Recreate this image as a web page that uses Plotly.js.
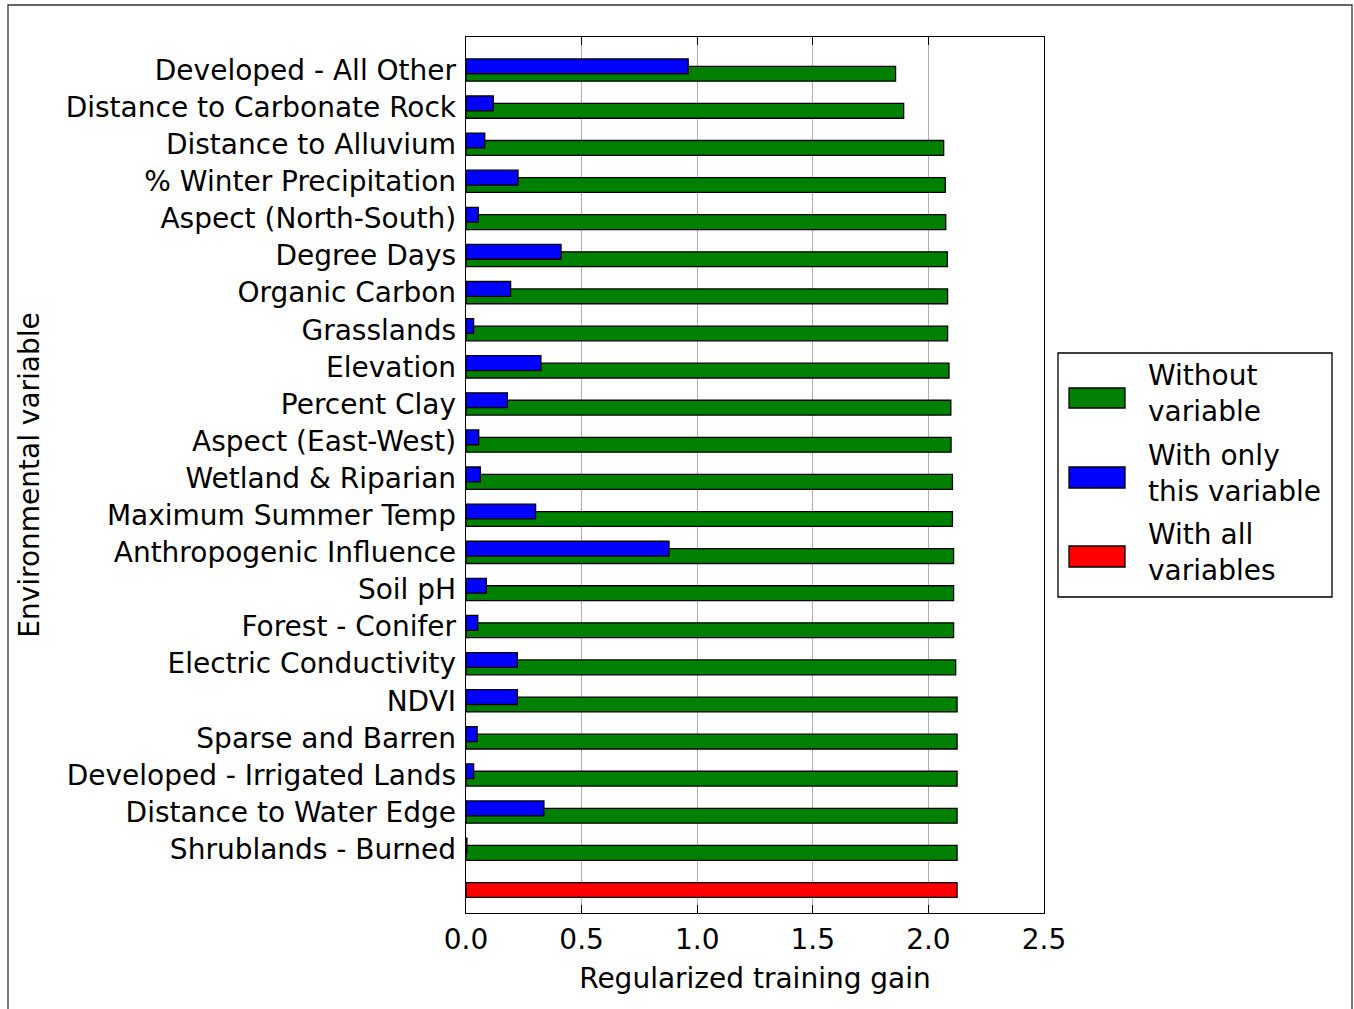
<!DOCTYPE html>
<html><head><meta charset="utf-8">
<script src="https://cdn.plot.ly/plotly-3.0.1.min.js"></script>
<style>html,body{margin:0;padding:0;background:#fff}#chart{width:1354px;height:1009px}</style>
</head><body><div id="chart"></div>
<script>
const categories = [
  'Developed - All Other','Distance to Carbonate Rock','Distance to Alluvium','% Winter Precipitation',
  'Aspect (North-South)','Degree Days','Organic Carbon','Grasslands','Elevation','Percent Clay',
  'Aspect (East-West)','Wetland & Riparian','Maximum Summer Temp','Anthropogenic Influence','Soil pH',
  'Forest - Conifer','Electric Conductivity','NDVI','Sparse and Barren','Developed - Irrigated Lands',
  'Distance to Water Edge','Shrublands - Burned'
];
const withoutVariable = [
  1.858, 1.893, 2.066, 2.073, 2.075, 2.082, 2.083, 2.083, 2.089, 2.097,
  2.098, 2.104, 2.104, 2.109, 2.109, 2.109, 2.118, 2.124, 2.124, 2.124,
  2.124, 2.124
];
const onlyThisVariable = [
  0.961, 0.118, 0.081, 0.225, 0.053, 0.411, 0.193, 0.033, 0.324, 0.179,
  0.055, 0.062, 0.301, 0.878, 0.088, 0.051, 0.222, 0.222, 0.048, 0.033,
  0.337, 0.004
];
const allVariables = [2.124];
const xTickVals = [0, 0.5, 1.0, 1.5, 2.0, 2.5];
const xTickText = ['0.0', '0.5', '1.0', '1.5', '2.0', '2.5'];
const seriesNames = ['Without<br>variable', 'With only<br>this variable', 'With all<br>variables'];
const seriesColors = ['#008000', '#0000ff', '#ff0000'];

const FONT = 'DejaVu Sans, Liberation Sans, sans-serif';
const FS = 28;
const W = 1354, H = 1009;
const M = {l: 466, r: 310, t: 37, b: 96};
const PW = W - M.l - M.r, PH = H - M.t - M.b;
const px = x => (x - M.l) / PW;
const py = y => (H - M.b - y) / PH;

const rows = categories.map((c, i) => i);
const outline = {color: '#000', width: 1.3};

const traces = [
  {type: 'bar', orientation: 'h', name: 'Without variable', x: withoutVariable, y: rows,
   offset: -0.1, width: 0.4, marker: {color: seriesColors[0], line: outline}, showlegend: false, hoverinfo: 'x'},
  {type: 'bar', orientation: 'h', name: 'With only this variable', x: onlyThisVariable, y: rows,
   offset: -0.3, width: 0.4, marker: {color: seriesColors[1], line: outline}, showlegend: false, hoverinfo: 'x'},
  {type: 'bar', orientation: 'h', name: 'With all variables', x: allVariables, y: [categories.length],
   offset: -0.1, width: 0.4, marker: {color: seriesColors[2], line: outline}, showlegend: false, hoverinfo: 'x'}
];

// custom legend (swatches and labels), laid out in paper space
const legBox = {x0: 1058, x1: 1332, y0: 353, y1: 597};
const swatchY = [[388, 408], [467, 488], [546, 567]];
const shapes = [
  {type: 'rect', xref: 'paper', yref: 'paper', x0: px(8), x1: px(1352), y0: py(5), y1: py(1020),
   line: {color: '#333', width: 1.3}, fillcolor: 'rgba(0,0,0,0)', layer: 'below'},
  {type: 'rect', xref: 'paper', yref: 'paper', x0: px(legBox.x0), x1: px(legBox.x1),
   y0: py(legBox.y0), y1: py(legBox.y1), line: {color: '#000', width: 1.3}, fillcolor: '#fff'}
];
const annotations = [];
seriesNames.forEach((n, i) => {
  shapes.push({type: 'rect', xref: 'paper', yref: 'paper', x0: px(1069), x1: px(1125),
    y0: py(swatchY[i][0]), y1: py(swatchY[i][1]), line: {color: '#000', width: 1.3}, fillcolor: seriesColors[i]});
  annotations.push({xref: 'paper', yref: 'paper', x: px(1146), y: py((swatchY[i][0] + swatchY[i][1]) / 2 - 4),
    xanchor: 'left', yanchor: 'middle', align: 'left', showarrow: false, text: n,
    font: {family: FONT, size: FS, color: '#000'}});
});

const layout = {
  width: W, height: H, margin: M,
  paper_bgcolor: '#fff', plot_bgcolor: '#fff',
  font: {family: FONT, size: FS, color: '#000'},
  barmode: 'overlay', bargap: 0,
  showlegend: false,
  xaxis: {
    range: [0, 2.5], tickvals: xTickVals, ticktext: xTickText,
    ticks: 'inside', ticklen: 8, tickwidth: 1.3, tickcolor: '#000',
    showline: true, linecolor: '#000', linewidth: 1.3, mirror: 'allticks',
    showgrid: true, gridcolor: '#b0b0b0', gridwidth: 1, zeroline: false,
    ticklabelstandoff: 1,
    tickfont: {family: FONT, size: FS, color: '#000'},
    title: {text: 'Regularized training gain', font: {family: FONT, size: FS, color: '#000'}, standoff: 13},
    automargin: false, fixedrange: true
  },
  yaxis: {
    range: [22.72, -0.89], tickvals: rows, ticktext: categories,
    ticks: '', showline: true, linecolor: '#000', linewidth: 1.3, mirror: true,
    showgrid: false, zeroline: false, ticklabelstandoff: 3,
    tickfont: {family: FONT, size: FS, color: '#000'},
    title: {text: 'Environmental variable', font: {family: FONT, size: FS, color: '#000'}, standoff: 18},
    automargin: false, fixedrange: true
  },
  shapes: shapes,
  annotations: annotations
};

Plotly.newPlot('chart', traces, layout, {displayModeBar: false, staticPlot: true});
</script>
</body></html>
